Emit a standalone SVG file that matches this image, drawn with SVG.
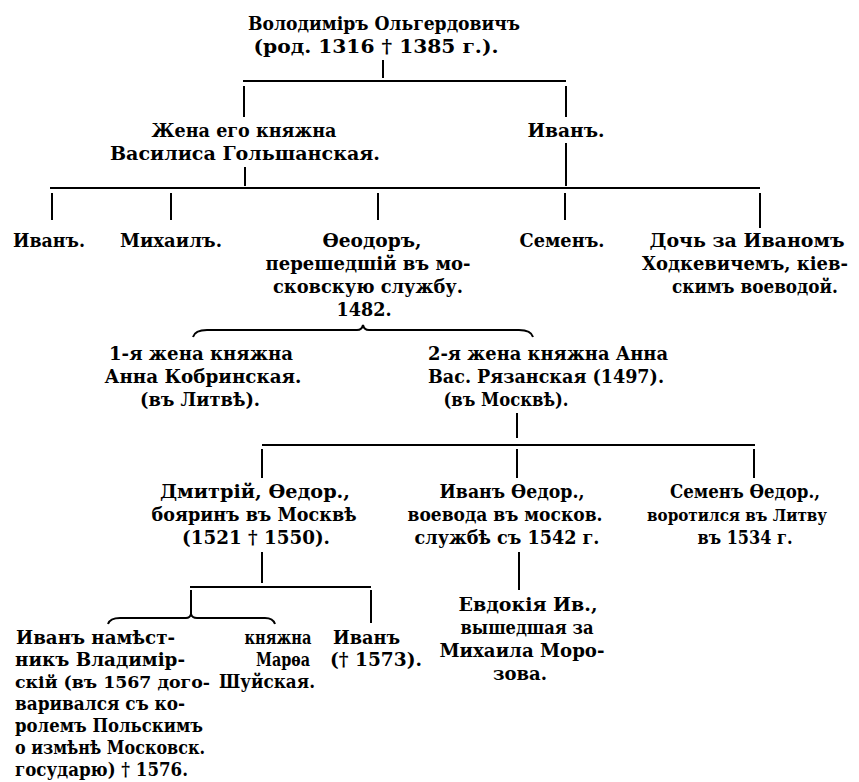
<svg xmlns="http://www.w3.org/2000/svg" width="859" height="782" viewBox="0 0 859 782">
<style>
text{font-family:"DejaVu Serif","Liberation Serif",serif;font-weight:bold;font-size:19px;fill:#000}
.c{text-anchor:middle}
.l{stroke:#000;stroke-width:2;fill:none}
</style>
<rect width="859" height="782" fill="#fff"/>
<g id="connectors" class="l">
<path d="M383,60V78M243,81H566M244,86V117M566,86V117M245,167V186M566,143V186"/>
<path d="M50,188H760M52,193V220M171,193V220M378,193V220M565,193V220M760,193V228"/>
<path d="M193,337Q195,330 207,330L357,330Q362,330 363,325Q364,330 369,330L519,330Q531,330 533,337"/>
<path d="M517,413V438M262,445H755M262,449V478M517,449V478M754,449V478"/>
<path d="M262,552V583M190,587H371M191,590V616M371,590V623M519,552V590"/>
<path d="M108,624Q110,618 120,618L186,618Q190,618 191,614Q192,618 197,618L265,618Q273,618 275,624"/>
</g>
<g id="vladimir" class="c">
<text x="384" y="30" textLength="272" lengthAdjust="spacingAndGlyphs">Володиміръ Ольгердовичъ</text>
<text x="376" y="53" textLength="245" lengthAdjust="spacingAndGlyphs">(род. 1316 † 1385 г.).</text>
</g>
<g id="wife" class="c">
<text x="244" y="137" textLength="185" lengthAdjust="spacingAndGlyphs">Жена его княжна</text>
<text x="245" y="160" textLength="270" lengthAdjust="spacingAndGlyphs">Василиса Гольшанская.</text>
</g>
<g id="ivan1" class="c">
<text x="566" y="137" textLength="77" lengthAdjust="spacingAndGlyphs">Иванъ.</text>
</g>
<g id="ivan2" class="c">
<text x="49" y="247" textLength="72" lengthAdjust="spacingAndGlyphs">Иванъ.</text>
</g>
<g id="mikhail" class="c">
<text x="171" y="247" textLength="102" lengthAdjust="spacingAndGlyphs">Михаилъ.</text>
</g>
<g id="feodor" class="c">
<text x="372" y="247" textLength="99" lengthAdjust="spacingAndGlyphs">Ѳеодоръ,</text>
<text x="368" y="270" textLength="205" lengthAdjust="spacingAndGlyphs">перешедшій въ мо-</text>
<text x="368" y="293" textLength="190" lengthAdjust="spacingAndGlyphs">сковскую службу.</text>
<text x="364" y="316" textLength="55" lengthAdjust="spacingAndGlyphs">1482.</text>
</g>
<g id="semen" class="c">
<text x="562" y="247" textLength="85" lengthAdjust="spacingAndGlyphs">Семенъ.</text>
</g>
<g id="daughter" class="c">
<text x="747" y="247" textLength="195" lengthAdjust="spacingAndGlyphs">Дочь за Иваномъ</text>
<text x="745" y="270" textLength="206" lengthAdjust="spacingAndGlyphs">Ходкевичемъ, кіев-</text>
<text x="755" y="293" textLength="166" lengthAdjust="spacingAndGlyphs">скимъ воеводой.</text>
</g>
<g id="wife1" class="c">
<text x="201" y="360" textLength="184" lengthAdjust="spacingAndGlyphs">1-я жена княжна</text>
<text x="203" y="383" textLength="197" lengthAdjust="spacingAndGlyphs">Анна Кобринская.</text>
<text x="200" y="406" textLength="120" lengthAdjust="spacingAndGlyphs">(въ Литвѣ).</text>
</g>
<g id="wife2" class="c">
<text x="548" y="360" textLength="240" lengthAdjust="spacingAndGlyphs">2-я жена княжна Анна</text>
<text x="546" y="383" textLength="236" lengthAdjust="spacingAndGlyphs">Вас. Рязанская (1497).</text>
<text x="506" y="406" textLength="125" lengthAdjust="spacingAndGlyphs">(въ Москвѣ).</text>
</g>
<g id="dmitri" class="c">
<text x="255" y="498" textLength="190" lengthAdjust="spacingAndGlyphs">Дмитрій, Ѳедор.,</text>
<text x="254" y="521" textLength="205" lengthAdjust="spacingAndGlyphs">бояринъ въ Москвѣ</text>
<text x="256" y="544" textLength="148" lengthAdjust="spacingAndGlyphs">(1521 † 1550).</text>
</g>
<g id="ivanf" class="c">
<text x="512" y="498" textLength="145" lengthAdjust="spacingAndGlyphs">Иванъ Ѳедор.,</text>
<text x="505" y="521" textLength="195" lengthAdjust="spacingAndGlyphs">воевода въ москов.</text>
<text x="507" y="544" textLength="185" lengthAdjust="spacingAndGlyphs">службѣ съ 1542 г.</text>
</g>
<g id="semenf" class="c">
<text x="745" y="498" textLength="150" lengthAdjust="spacingAndGlyphs">Семенъ Ѳедор.,</text>
<text x="737" y="521" textLength="180" lengthAdjust="spacingAndGlyphs" style="font-size:17px">воротился въ Литву</text>
<text x="745" y="544" textLength="95" lengthAdjust="spacingAndGlyphs">въ 1534 г.</text>
</g>
<g id="ivan_namestnik">
<text x="16" y="644" textLength="159" lengthAdjust="spacingAndGlyphs">Иванъ намѣст-</text>
<text x="15" y="666" textLength="170" lengthAdjust="spacingAndGlyphs">никъ Владимір-</text>
<text x="15" y="688" textLength="195" lengthAdjust="spacingAndGlyphs" style="font-size:17px">скій (въ 1567 дого-</text>
<text x="15" y="710" textLength="170" lengthAdjust="spacingAndGlyphs">варивался съ ко-</text>
<text x="15" y="732" textLength="188" lengthAdjust="spacingAndGlyphs">ролемъ Польскимъ</text>
<text x="15" y="754" textLength="190" lengthAdjust="spacingAndGlyphs">о измѣнѣ Московск.</text>
<text x="15" y="776" textLength="173" lengthAdjust="spacingAndGlyphs">государю) † 1576.</text>
</g>
<g id="marfa" class="c">
<text x="278" y="644" textLength="67" lengthAdjust="spacingAndGlyphs">княжна</text>
<text x="283" y="666" textLength="54" lengthAdjust="spacingAndGlyphs">Марѳа</text>
<text x="267" y="688" textLength="96" lengthAdjust="spacingAndGlyphs">Шуйская.</text>
</g>
<g id="ivan3">
<text x="333" y="644" textLength="67" lengthAdjust="spacingAndGlyphs">Иванъ</text>
<text x="330" y="666" textLength="92" lengthAdjust="spacingAndGlyphs">(† 1573).</text>
</g>
<g id="evdokia" class="c">
<text x="528" y="611" textLength="139" lengthAdjust="spacingAndGlyphs">Евдокія Ив.,</text>
<text x="527" y="634" textLength="133" lengthAdjust="spacingAndGlyphs">вышедшая за</text>
<text x="522" y="657" textLength="165" lengthAdjust="spacingAndGlyphs">Михаила Моро-</text>
<text x="520" y="680" textLength="54" lengthAdjust="spacingAndGlyphs">зова.</text>
</g>
</svg>
